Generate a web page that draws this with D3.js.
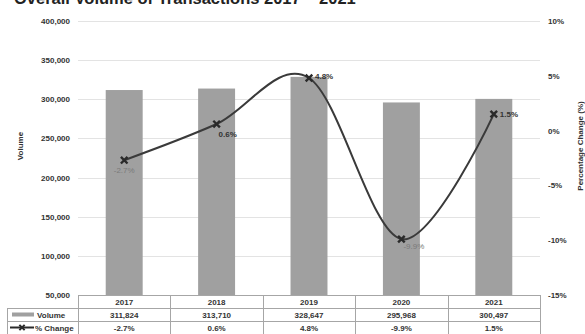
<!DOCTYPE html>
<html>
<head>
    <meta charset="utf-8" />
    <title>Overall Volume of Transactions 2017 - 2021</title>
    <script src="https://cdn.jsdelivr.net/npm/d3@7"></script>
    <style>
        body { margin: 0; padding: 0; background: #fff; }
        svg { display: block; font-family: "Liberation Sans", Arial, sans-serif; }
        .tick-label { font-size: 8px; font-weight: bold; fill: #333; }
        .grid { stroke: #e3e3e3; stroke-width: 1; }
        .cell { font-size: 8px; font-weight: bold; fill: #333; }
        .border { stroke: #a6a6a6; stroke-width: 1; fill: none; }
    </style>
</head>
<body>
<svg id="chart" width="585" height="334"></svg>
<script>
// data
var years = ["2017", "2018", "2019", "2020", "2021"];
var volumes = [311824, 313710, 328647, 295968, 300497];
var pctChange = [-2.7, 0.6, 4.8, -9.9, 1.5];
var volumeTicks = [50000, 100000, 150000, 200000, 250000, 300000, 350000, 400000];
var pctTicks = [-15, -10, -5, 0, 5, 10];

var svg = d3.select("#chart");

// plot box (window.top is read-only, so no "top" here)
var plotL = 78, plotR = 540, plotT = 21, plotB = 295;

var x = d3.scaleBand().domain(years).range([plotL, plotR]).padding(0);
var yVol = d3.scaleLinear().domain([50000, 400000]).range([plotB, plotT]);
var yPct = d3.scaleLinear().domain([-15, 10]).range([plotB, plotT]);

var fmtNum = d3.format(",");
// plain hyphen for negatives, like the original
var fmtPct = function(d) { return d.toFixed(1) + "%"; };

// title (cut off at the top like the original)
svg.append("text")
    .attr("x", 14)
    .attr("y", 4)
    .attr("font-size", 16.5)
    .attr("font-weight", "bold")
    .attr("fill", "#222")
    .text("Overall Volume of Transactions 2017 \u2013 2021");

// gridlines
svg.append("g").selectAll("line")
    .data(volumeTicks.slice(1))
    .enter().append("line")
      .attr("class", "grid")
      .attr("x1", plotL).attr("x2", plotR)
      .attr("y1", function(d) { return Math.round(yVol(d)) + 0.5; })
      .attr("y2", function(d) { return Math.round(yVol(d)) + 0.5; });

// left axis labels
svg.append("g").selectAll("text")
    .data(volumeTicks)
    .enter().append("text")
      .attr("class", "tick-label")
      .attr("x", 70)
      .attr("y", function(d) { return yVol(d) + 3; })
      .attr("text-anchor", "end")
      .text(function(d) { return fmtNum(d); });

// right axis labels
svg.append("g").selectAll("text")
    .data(pctTicks)
    .enter().append("text")
      .attr("class", "tick-label")
      .attr("x", 548)
      .attr("y", function(d) { return yPct(d) + 3; })
      .text(function(d) { return d + "%"; });

// axis titles
svg.append("text")
    .attr("transform", "translate(23,146) rotate(-90)")
    .attr("text-anchor", "middle")
    .attr("font-size", 8)
    .attr("font-weight", "bold")
    .attr("fill", "#333")
    .text("Volume");
svg.append("text")
    .attr("transform", "translate(583,146) rotate(-90)")
    .attr("text-anchor", "middle")
    .attr("font-size", 8)
    .attr("font-weight", "bold")
    .attr("fill", "#333")
    .text("Percentage Change (%)");

// bars
var barW = x.bandwidth() * 0.4;
svg.append("g").selectAll("rect")
    .data(volumes)
    .enter().append("rect")
      .attr("x", function(d, i) { return x(years[i]) + (x.bandwidth() - barW) / 2; })
      .attr("y", function(d) { return yVol(d); })
      .attr("width", barW)
      .attr("height", function(d) { return plotB - yVol(d); })
      .attr("fill", "#a0a0a0");

// line
var cx = function(i) { return x(years[i]) + x.bandwidth() / 2; };
var line = d3.line()
    .x(function(d, i) { return cx(i); })
    .y(function(d) { return yPct(d); })
    .curve(d3.curveCatmullRom.alpha(0));
svg.append("path")
    .datum(pctChange)
    .attr("d", line)
    .attr("fill", "none")
    .attr("stroke", "#3a3a3a")
    .attr("stroke-width", 2);

var marker = d3.symbol().type(d3.symbolTimes).size(30);
svg.append("g").selectAll("path")
    .data(pctChange)
    .enter().append("path")
      .attr("d", marker)
      .attr("transform", function(d, i) { return "translate(" + cx(i) + "," + yPct(d) + ")"; })
      .attr("fill", "none")
      .attr("stroke", "#2a2a2a")
      .attr("stroke-width", 2.4);

// data labels
var labelPos = [[0, 13, "middle"], [2, 13, "start"], [6, 1, "start"], [2, 10, "start"], [6, 3, "start"]];
svg.append("g").selectAll("text")
    .data(pctChange)
    .enter().append("text")
      .attr("x", function(d, i) { return cx(i) + labelPos[i][0]; })
      .attr("y", function(d) { return yPct(d); })
      .attr("dy", function(d, i) { return labelPos[i][1]; })
      .attr("text-anchor", function(d, i) { return labelPos[i][2]; })
      .attr("font-size", 8)
      .attr("font-weight", function(d) { return d < 0 ? "normal" : "bold"; })
      .attr("fill", function(d) { return d < 0 ? "#7a7a7a" : "#333"; })
      .text(fmtPct);

// data table
var rowH = 13;
var tbl = svg.append("g");
var tTop = plotB, tLeft = 7;
// horizontal lines
tbl.append("line").attr("class", "border")
    .attr("x1", plotL).attr("x2", plotR).attr("y1", tTop + 0.5).attr("y2", tTop + 0.5);
[1, 2, 3].forEach(function(r) {
  tbl.append("line").attr("class", "border")
      .attr("x1", tLeft).attr("x2", plotR)
      .attr("y1", tTop + r * rowH + 0.5).attr("y2", tTop + r * rowH + 0.5);
});
// vertical lines
years.concat(["end"]).forEach(function(yr, i) {
  var xx = i < years.length ? x(yr) : plotR;
  tbl.append("line").attr("class", "border")
      .attr("x1", Math.round(xx) + 0.5).attr("x2", Math.round(xx) + 0.5)
      .attr("y1", tTop).attr("y2", tTop + 3 * rowH + 5);
});
tbl.append("line").attr("class", "border")
    .attr("x1", tLeft + 0.5).attr("x2", tLeft + 0.5)
    .attr("y1", tTop + rowH).attr("y2", tTop + 3 * rowH + 5);

var rows = [years, volumes.map(fmtNum), pctChange.map(fmtPct)];
rows.forEach(function(row, r) {
  tbl.selectAll(null)
      .data(row)
      .enter().append("text")
        .attr("class", "cell")
        .attr("x", function(d, i) { return cx(i); })
        .attr("y", tTop + r * rowH + 9.5)
        .attr("text-anchor", "middle")
        .text(function(d) { return d; });
});

// legend keys in the table
tbl.append("rect")
    .attr("x", 12).attr("y", tTop + rowH + 4.5)
    .attr("width", 22).attr("height", 4)
    .attr("fill", "#a0a0a0");
tbl.append("text").attr("class", "cell")
    .attr("x", 37).attr("y", tTop + rowH + 9.5)
    .text("Volume");
tbl.append("line")
    .attr("x1", 10).attr("x2", 34)
    .attr("y1", tTop + 2 * rowH + 6.5).attr("y2", tTop + 2 * rowH + 6.5)
    .attr("stroke", "#2a2a2a").attr("stroke-width", 2);
tbl.append("path")
    .attr("d", d3.symbol().type(d3.symbolTimes).size(20))
    .attr("transform", "translate(22," + (tTop + 2 * rowH + 6.5) + ")")
    .attr("fill", "none").attr("stroke", "#2a2a2a").attr("stroke-width", 2);
tbl.append("text").attr("class", "cell")
    .attr("x", 35).attr("y", tTop + 2 * rowH + 9.5)
    .attr("font-weight", "normal")
    .text("% Change");
</script>
</body>
</html>
